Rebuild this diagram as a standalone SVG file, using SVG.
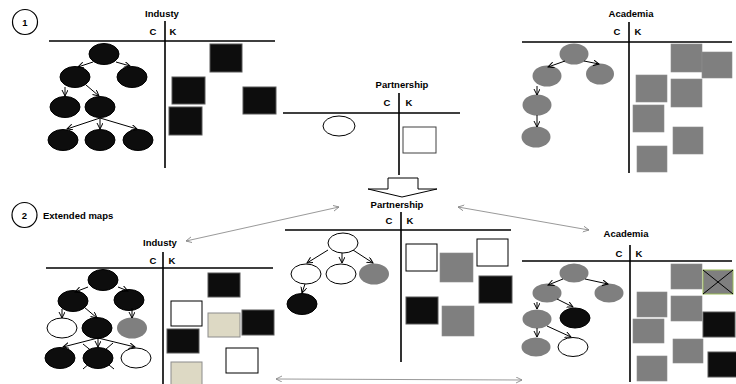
<svg xmlns="http://www.w3.org/2000/svg" width="736" height="384" viewBox="0 0 736 384">
<style>
text{font-family:"Liberation Sans",Arial,sans-serif;font-weight:bold;font-size:9.5px;fill:#000}
.t{text-anchor:middle}
.ax{stroke:#000;stroke-width:1.6;fill:none}
.eb{fill:#0d0d0d;stroke:#000;stroke-width:1}
.eg{fill:#7f7f7f;stroke:none}
.ew{fill:#fff;stroke:#000;stroke-width:1}
.sb{fill:#0d0d0d;stroke:#595959;stroke-width:1}
.sg{fill:#7f7f7f;stroke:#8c8c8c;stroke-width:0.6}
.sw{fill:#fff;stroke:#000;stroke-width:1}
.sy{fill:#ddd9c4;stroke:#8c8c8c;stroke-width:1}
.tr{stroke:#000;stroke-width:1;fill:none;marker-end:url(#ah)}
.lk{stroke:#7f7f7f;stroke-width:0.8;fill:none;marker-start:url(#lh);marker-end:url(#lh)}
</style>
<defs>
<marker id="ah" markerUnits="userSpaceOnUse" markerWidth="7" markerHeight="7" refX="6" refY="3" orient="auto">
<path d="M0,0 L6,3 L0,6" fill="none" stroke="#000" stroke-width="1"/>
</marker>
<marker id="lh" markerUnits="userSpaceOnUse" markerWidth="7" markerHeight="7" refX="6" refY="3" orient="auto-start-reverse">
<path d="M0,0 L6,3 L0,6" fill="none" stroke="#7f7f7f" stroke-width="0.8"/>
</marker>
</defs>
<rect width="736" height="384" fill="#fff"/>

<g id="step1">
<circle cx="25" cy="22" r="12.5" fill="#fff" stroke="#000" stroke-width="1.2"/>
<text x="25" y="25.5" class="t">1</text>
</g>
<g id="step2">
<circle cx="24.5" cy="215" r="12.5" fill="#fff" stroke="#000" stroke-width="1.2"/>
<text x="24.5" y="218.5" class="t">2</text>
<text x="43" y="218.5" font-size="9">Extended maps</text>
</g>

<!-- Section 1: Industry -->
<g id="industry1">
<text x="162" y="17" class="t">Industy</text>
<path class="ax" d="M165,21V168M49,41H275"/>
<text x="153" y="35" class="t">C</text>
<text x="173" y="35" class="t">K</text>
<ellipse class="eb" cx="104" cy="54" rx="15" ry="10.5"/>
<ellipse class="eb" cx="75" cy="77" rx="15" ry="10.5"/>
<ellipse class="eb" cx="132" cy="77" rx="15" ry="10.5"/>
<ellipse class="eb" cx="65" cy="107" rx="15" ry="10.5"/>
<ellipse class="eb" cx="100" cy="107" rx="15" ry="10.5"/>
<ellipse class="eb" cx="63" cy="140" rx="15" ry="10.5"/>
<ellipse class="eb" cx="100" cy="140" rx="15" ry="10.5"/>
<ellipse class="eb" cx="138" cy="140" rx="15" ry="10.5"/>
<rect class="sb" x="210" y="44" width="32" height="28"/>
<rect class="sb" x="172" y="77" width="33" height="27"/>
<rect class="sb" x="243" y="87" width="33" height="27"/>
<rect class="sb" x="169" y="107" width="33" height="28"/>
</g>

<!-- Section 1: Partnership -->
<g id="partnership1">
<text x="402" y="88" class="t">Partnership</text>
<path class="ax" d="M399,93V175M283,113H460"/>
<text x="387" y="106" class="t">C</text>
<text x="409" y="106" class="t">K</text>
<ellipse class="ew" cx="339" cy="126" rx="16" ry="10"/>
<rect x="403" y="127" width="33" height="26" fill="#fff" stroke="#404040" stroke-width="1"/>
</g>

<!-- Section 1: Academia -->
<g id="academia1">
<text x="631" y="17" class="t">Academia</text>
<path class="ax" d="M629,22V173M522,42H732"/>
<text x="617" y="35" class="t">C</text>
<text x="638" y="35" class="t">K</text>
<ellipse class="eg" cx="574" cy="54" rx="14.5" ry="10.5"/>
<ellipse class="eg" cx="547" cy="76" rx="14.5" ry="10.5"/>
<ellipse class="eg" cx="600" cy="74" rx="14" ry="10.5"/>
<ellipse class="eg" cx="537" cy="105" rx="14.5" ry="10.5"/>
<ellipse class="eg" cx="536" cy="137" rx="14.5" ry="10.5"/>
<rect class="sg" x="671" y="44" width="31" height="28"/>
<rect class="sg" x="702" y="52" width="30" height="26"/>
<rect class="sg" x="636" y="75" width="31" height="27"/>
<rect class="sg" x="671" y="79" width="31" height="28"/>
<rect class="sg" x="633" y="105" width="31" height="27"/>
<rect class="sg" x="673" y="127" width="30" height="27"/>
<rect class="sg" x="637" y="146" width="30" height="26"/>
</g>

<!-- hollow transition arrow -->
<g id="transition">
<polygon points="388,178 418,178 418,189 437,189 402,197 368,189 388,189" fill="#fff" stroke="#000" stroke-width="1"/>
</g>

<!-- Section 2: Industry -->
<g id="industry2">
<text x="160" y="246" class="t">Industy</text>
<path class="ax" d="M163,252V384M46,268H273"/>
<text x="153" y="264" class="t">C</text>
<text x="172" y="264" class="t">K</text>
<path d="M83,344L114,369M113,343L83,369" stroke="#000" stroke-width="1"/>
<ellipse class="eb" cx="103" cy="280" rx="15" ry="10.5"/>
<ellipse class="eb" cx="73" cy="301" rx="15" ry="10.5"/>
<ellipse class="eb" cx="129" cy="300" rx="15" ry="10.5"/>
<ellipse class="ew" cx="62" cy="328" rx="15" ry="10"/>
<ellipse class="eb" cx="97" cy="328" rx="15" ry="10.5"/>
<ellipse class="eg" cx="132" cy="328" rx="15" ry="10.5"/>
<ellipse class="eb" cx="60" cy="358" rx="15" ry="10.5"/>
<ellipse class="eb" cx="98" cy="358" rx="15" ry="10.5"/>
<ellipse class="ew" cx="136" cy="358" rx="15" ry="10"/>
<rect class="sb" x="208" y="273" width="32" height="24"/>
<rect class="sw" x="171" y="301" width="31" height="25"/>
<rect class="sy" x="208" y="313" width="32" height="24"/>
<rect class="sb" x="242" y="310" width="32" height="25"/>
<rect class="sb" x="167" y="329" width="32" height="24"/>
<rect class="sw" x="226" y="348" width="32" height="25"/>
<rect class="sy" x="171" y="362" width="31" height="25"/>
</g>

<!-- Section 2: Partnership -->
<g id="partnership2">
<text x="397" y="208" class="t">Partnership</text>
<path class="ax" d="M401,212V362M285,230H511"/>
<text x="389" y="224" class="t">C</text>
<text x="410" y="224" class="t">K</text>
<ellipse class="ew" cx="343" cy="243" rx="15" ry="10"/>
<ellipse class="ew" cx="306" cy="274" rx="15" ry="10"/>
<ellipse class="ew" cx="341" cy="274" rx="15" ry="10"/>
<ellipse class="eg" cx="374" cy="274" rx="15" ry="10.5"/>
<ellipse class="eb" cx="302" cy="304" rx="15" ry="10.5"/>
<rect class="sw" x="406" y="244" width="31" height="27"/>
<rect class="sg" x="440" y="253" width="33" height="29"/>
<rect class="sw" x="477" y="239" width="31" height="27"/>
<rect class="sb" x="479" y="276" width="33" height="27"/>
<rect class="sb" x="406" y="297" width="32" height="27"/>
<rect class="sg" x="442" y="306" width="32" height="30"/>
</g>

<!-- Section 2: Academia -->
<g id="academia2">
<text x="626" y="237" class="t">Academia</text>
<path class="ax" d="M630,245V382M522,261H732"/>
<text x="619" y="257" class="t">C</text>
<text x="639" y="257" class="t">K</text>
<ellipse class="eg" cx="574" cy="273" rx="14.5" ry="9.5"/>
<ellipse class="eg" cx="547" cy="293" rx="14.5" ry="9.5"/>
<ellipse class="eg" cx="609" cy="293" rx="14.5" ry="9.5"/>
<ellipse class="eg" cx="537" cy="319" rx="14.5" ry="9.5"/>
<ellipse class="eb" cx="575" cy="318" rx="15" ry="10"/>
<ellipse class="eg" cx="536" cy="347" rx="14.5" ry="9.5"/>
<ellipse class="ew" cx="573" cy="347" rx="15" ry="9.5"/>
<rect class="sg" x="671" y="264" width="31" height="25"/>
<rect x="703" y="270" width="30" height="24" fill="#7f7f7f" stroke="#9bbb59" stroke-width="1"/>
<path d="M703,270L733,294M733,270L703,294" stroke="#000" stroke-width="1"/>
<rect class="sg" x="637" y="292" width="30" height="25"/>
<rect class="sg" x="671" y="296" width="31" height="25"/>
<rect class="sb" x="703" y="312" width="32" height="25"/>
<rect class="sg" x="633" y="319" width="31" height="24"/>
<rect class="sg" x="673" y="339" width="30" height="24"/>
<rect class="sb" x="708" y="352" width="29" height="25"/>
<rect class="sg" x="637" y="356" width="30" height="25"/>
</g>

<g id="connectors">
<!-- industry 1 -->
<path class="tr" d="M93,62L78,67"/>
<path class="tr" d="M116,62L130,66"/>
<path class="tr" d="M65,87V96"/>
<path class="tr" d="M86,85L99,96"/>
<path class="tr" d="M100,118L67,129"/>
<path class="tr" d="M100,118V129"/>
<path class="tr" d="M100,118L137,129"/>
<!-- academia 1 -->
<path class="tr" d="M565,61L548,67"/>
<path class="tr" d="M584,61L599,64"/>
<path class="tr" d="M537,86V95"/>
<path class="tr" d="M537,115V127"/>
<!-- industry 2 -->
<path class="tr" d="M88,287L75,292"/>
<path class="tr" d="M118,287L128,291"/>
<path class="tr" d="M62,309V318"/>
<path class="tr" d="M84,307L97,318"/>
<path class="tr" d="M132,308V318"/>
<path class="tr" d="M98,338L63,347"/>
<path class="tr" d="M98,338V347"/>
<path class="tr" d="M98,338L135,347"/>
<!-- partnership 2 -->
<path class="tr" d="M328,250L307,263"/>
<path class="tr" d="M342,253V263"/>
<path class="tr" d="M353,250L373,263"/>
<path class="tr" d="M305,284L302,293"/>
<!-- academia 2 -->
<path class="tr" d="M563,279L548,285"/>
<path class="tr" d="M585,279L608,284"/>
<path class="tr" d="M537,302V309"/>
<path class="tr" d="M557,299L573,307"/>
<path class="tr" d="M537,328V337"/>
<path class="tr" d="M547,326L571,337"/>
<!-- links between maps -->
<path class="lk" d="M186,241L339,207"/>
<path class="lk" d="M458,207L589,230"/>
<path class="lk" d="M276,379L522,380"/>
</g>
</svg>
